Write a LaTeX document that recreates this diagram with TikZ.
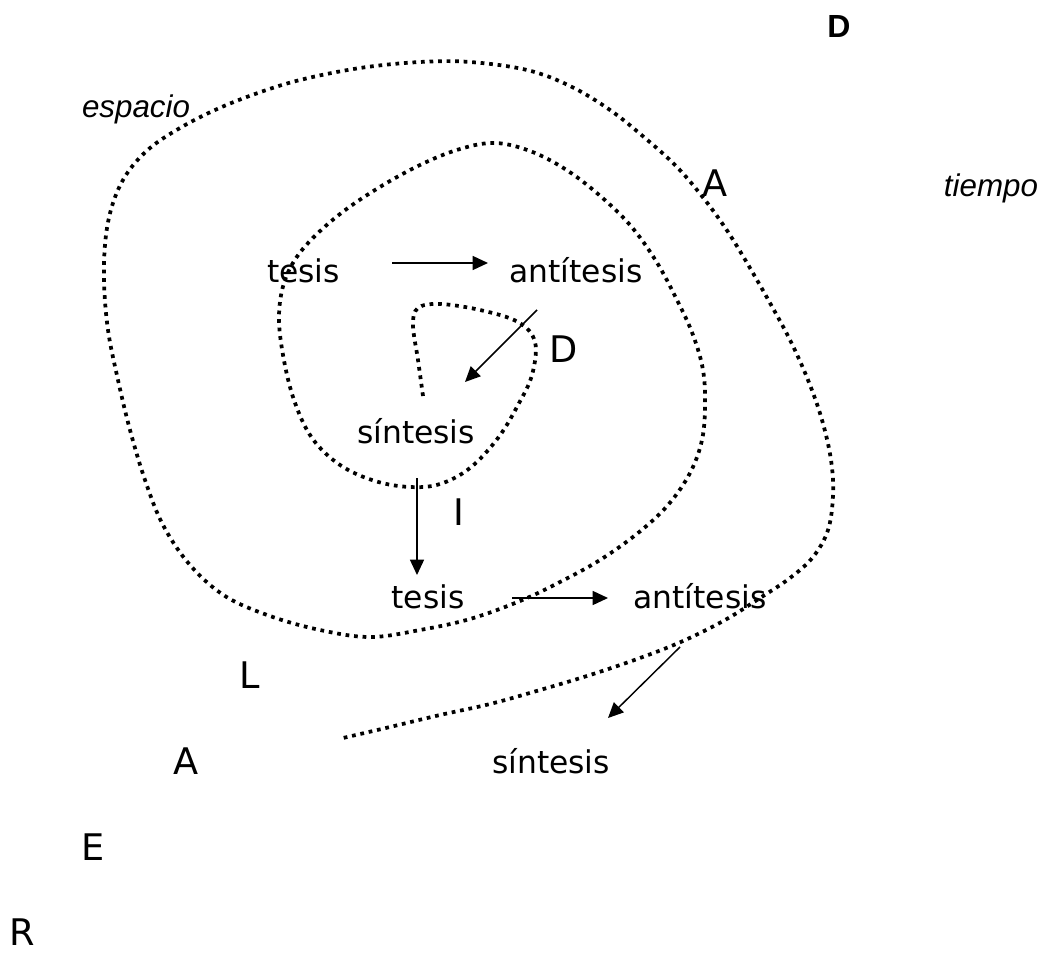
\documentclass[tikz,border=0pt]{standalone}
\usepackage{fontspec}
\setmainfont{DejaVu Sans}
\newfontfamily\arialfont{Liberation Sans}
\usetikzlibrary{arrows.meta,calc}

\begin{document}
\begin{tikzpicture}[x=0.75pt,y=0.75pt,yscale=-1,xscale=1,
  txt/.style={anchor=base,inner sep=0.75pt,font=\fontsize{23.5}{28}\selectfont},
  letra/.style={anchor=base,inner sep=0.75pt,font=\fontsize{27.5}{33}\selectfont},
  etiq/.style={anchor=base,inner sep=0.75pt,font=\arialfont\itshape\fontsize{23.5}{28}\selectfont},
  espiral/.style={line width=2.8pt,dash pattern=on 2.8pt off 3.6pt},
  flecha/.style={line width=1.1pt,-{Triangle[length=11.5pt,width=10.5pt]}}]
\useasboundingbox (0,0) rectangle (1041,952);

%Curve Lines [spiral]
\draw [espiral] plot [smooth,tension=0.6] coordinates {(423,396) (418,360) (413,325) (418,308) (440,304) (480,310) (518,322) (535,342) (532,375) (518,405) (498,438) (470,468) (440,484) (410,487) (375,481) (340,465) (312,438) (294,400) (283,355) (279,315) (285,280) (302,250) (335,218) (375,190) (420,165) (460,149) (495,143) (530,151) (565,169) (598,194) (630,225) (656,261) (677,300) (693,335) (703,370) (705,405) (702,440) (690,473) (668,505) (638,533) (600,560) (560,582) (520,601) (470,619) (420,630) (370,637) (320,630) (270,616) (225,596) (190,565) (163,525) (145,480) (130,430) (118,380) (108,330) (104,280) (106,235) (114,200) (128,172) (150,148) (180,128) (215,110) (255,94) (300,80) (360,68) (420,62) (470,62) (527,70) (570,86) (610,110) (645,138) (677,167) (705,200) (728,232) (750,268) (770,303) (790,340) (808,380) (822,420) (831,460) (833,495) (828,530) (813,557) (790,578) (760,598) (725,620) (683,641) (640,658) (590,675) (540,690) (490,704) (440,715) (390,727) (343,738)};

% Text Node
\draw (303.5,282) node [txt] (tesisA) {tesis};
% Text Node
\draw (576,282) node [txt] (antiA) {antítesis};
% Text Node
\draw (416,443) node [txt] (sintA) {síntesis};
% Text Node
\draw (428,608) node [txt] (tesisB) {tesis};
% Text Node
\draw (700,608) node [txt] (antiB) {antítesis};
% Text Node
\draw (551,773) node [txt] (sintB) {síntesis};

% Text Node
\draw (839,38) node [etiq,font=\arialfont\bfseries\fontsize{24}{28}\selectfont] (dTop) {D};
% Text Node
\draw (136,118) node [etiq] (espacio) {espacio};
% Text Node
\draw (991,197) node [etiq] (tiempo) {tiempo};
% Text Node
\draw (715,197) node [letra] (aUno) {A};
% Text Node
\draw (564,362) node [letra] (dDos) {D};
% Text Node
\draw (459,525) node [letra] (iTres) {I};
% Text Node
\draw (250,688) node [letra] (lCuatro) {L};
% Text Node
\draw (186,774) node [letra] (aCinco) {A};
% Text Node
\draw (93,860) node [letra] (eSeis) {E};
% Text Node
\draw (22,945) node [letra] (rSiete) {R};

%Straight Lines
\draw [flecha] ($(tesisA.base)+(88.5,-19)$) -- ($(antiA.base)+(-88,-19)$);
%Straight Lines
\draw [flecha] ($(antiA.base)+(-39,28)$) -- ($(sintA.base)+(49,-61)$);
%Straight Lines
\draw [flecha] ($(sintA.base)+(1,35)$) -- ($(tesisB.base)+(-11,-33)$);
%Straight Lines
\draw [flecha] ($(tesisB.base)+(84,-10)$) -- ($(antiB.base)+(-92,-10)$);
%Straight Lines
\draw [flecha] ($(antiB.base)+(-20,39)$) -- ($(sintB.base)+(57,-55)$);

\end{tikzpicture}
\end{document}
